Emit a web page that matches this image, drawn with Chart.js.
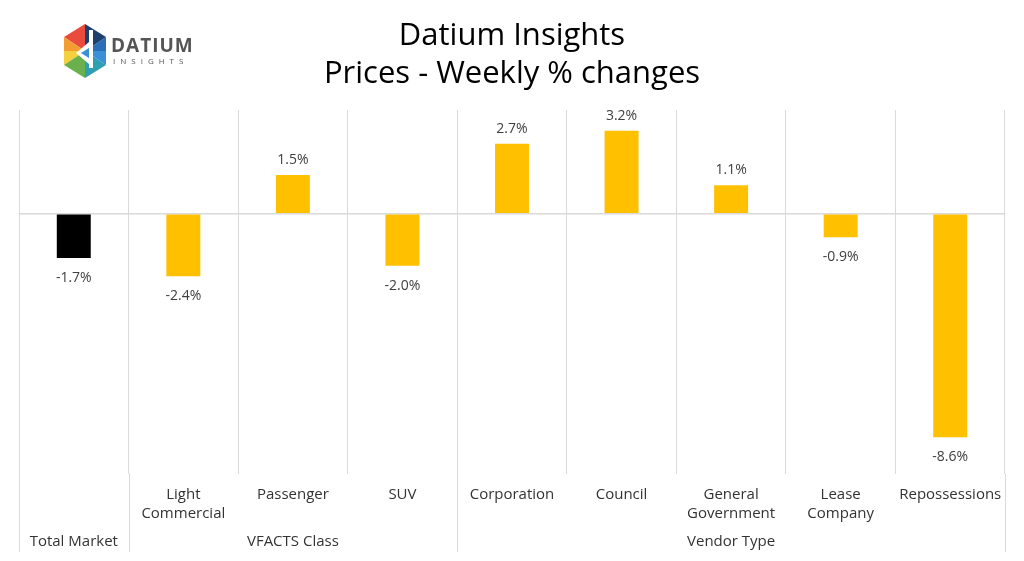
<!DOCTYPE html>
<html lang="en">
<head>
    <title>Datium Insights</title>
    <script src="https://cdn.jsdelivr.net/npm/chart.js"></script>
    <style>
        body { margin: 0; background: #fff; }
        .wrap { position: relative; width: 1024px; height: 561px; }
        .logo { position: absolute; left: 64px; top: 24px; display: flex; align-items: center; }
        .logo .name { margin-left: 5px; font-family: 'Open Sans', sans-serif; color: #555; }
        .logo .big { font-size: 19px; font-weight: 700; letter-spacing: 1px; line-height: 20px; }
        .logo .small { font-size: 8px; letter-spacing: 5px; line-height: 12px; margin-left: 2px; }
    </style>
</head>
<body>
<div class="wrap">
    <canvas id="changes"></canvas>
    <div class="logo">
        <svg width="42" height="54" viewBox="0 0 42 54">
            <polygon points="21,0 0,13 21,27" fill="#e94b3c"/>
            <polygon points="0,13 0,27 21,27" fill="#f39c32"/>
            <polygon points="0,27 0,41 21,27" fill="#f4d03f"/>
            <polygon points="0,41 21,54 21,27" fill="#6ab04c"/>
            <polygon points="21,54 42,41 21,27" fill="#2e9fb0"/>
            <polygon points="42,41 42,27 21,27" fill="#3a8fd6"/>
            <polygon points="42,27 42,13 21,27" fill="#2a6fb8"/>
            <polygon points="42,13 21,0 21,27" fill="#1c3f6e"/>
            <polygon points="25,6 29,6 29,44 25,44" fill="#fff"/>
            <polygon points="25,18 12,29 25,40" fill="#fff"/>
            <polygon points="25,24 17,29 25,34" fill="#3a8fd6"/>
        </svg>
        <div class="name">
            <div class="big">DATIUM</div>
            <div class="small">INSIGHTS</div>
        </div>
    </div>
</div>

<script>
    // categories along the axis (first one is shown in the group row only)
    const categories = ['', ['Light', 'Commercial'], 'Passenger', 'SUV', 'Corporation', 'Council', ['General', 'Government'], ['Lease', 'Company'], 'Repossessions'];
    const weeklyChange = [-1.7, -2.4, 1.5, -2.0, 2.7, 3.2, 1.1, -0.9, -8.6];

    // group row under the categories
    const groupLabels = ['Total Market', 'VFACTS Class', 'Vendor Type'];
    const groupSizes = [1, 3, 5];

    const font = "'Open Sans', sans-serif";

    const extras = {
        id: 'extras',
        afterDatasetsDraw(chart) {
            const ctx = chart.ctx;
            const meta = chart.getDatasetMeta(0);
            ctx.save();
            ctx.font = '14px ' + font;
            ctx.fillStyle = '#404040';
            ctx.textAlign = 'center';
            ctx.textBaseline = 'middle';
            meta.data.forEach((bar, i) => {
                const v = weeklyChange[i];
                const txt = v.toFixed(1) + '%';
                if (v >= 0) ctx.fillText(txt, bar.x, bar.y - 15);
                else ctx.fillText(txt, bar.x, bar.y + 20);
            });
            ctx.restore();
        },
        afterDraw(chart) {
            const ctx = chart.ctx;
            const x = chart.scales.x;
            const area = chart.chartArea;
            const step = x.getPixelForValue(1) - x.getPixelForValue(0);
            ctx.save();
            ctx.strokeStyle = '#d9d9d9';
            ctx.lineWidth = 1;
            ctx.font = '15px ' + font;
            ctx.fillStyle = '#333';
            ctx.textAlign = 'center';
            ctx.textBaseline = 'middle';
            let start = 0;
            const edges = [0];
            groupSizes.forEach((n, g) => {
                const left = x.getPixelForValue(start) - step / 2;
                const right = x.getPixelForValue(start + n - 1) + step / 2;
                ctx.fillText(groupLabels[g], (left + right) / 2, 542);
                start += n;
                edges.push(start);
            });
            edges.forEach(e => {
                const px = Math.round(x.getPixelForValue(e) - step / 2) + 0.5;
                ctx.beginPath();
                ctx.moveTo(px, area.bottom);
                ctx.lineTo(px, 552);
                ctx.stroke();
            });
            ctx.restore();
        }
    };

    const changesCtx = document.getElementById('changes').getContext('2d');
    new Chart(changesCtx, {
        type: 'bar',
        data: {
            labels: categories,
            datasets: [{
                data: weeklyChange,
                backgroundColor: c => c.dataIndex === 0 ? '#000000' : '#FFC000',
                borderWidth: 0,
                barPercentage: 0.31,
                categoryPercentage: 1
            }]
        },
        options: {
            responsive: true,
            maintainAspectRatio: false,
            animation: false,
            layout: { padding: { left: 19, right: 19, bottom: 26 } },
            plugins: {
                legend: { display: false },
                tooltip: { enabled: false },
                title: {
                    display: true,
                    text: ['Datium Insights', 'Prices - Weekly % changes'],
                    color: '#000',
                    font: { family: font, size: 31, weight: 'normal', lineHeight: 1.226 },
                    padding: { top: 17, bottom: 17 }
                }
            },
            scales: {
                x: {
                    grid: { offset: true, color: '#d9d9d9', drawTicks: false },
                    border: { display: false },
                    ticks: {
                        color: '#333',
                        padding: 12,
                        maxRotation: 0,
                        autoSkip: false,
                        font: { family: font, size: 15, lineHeight: 1.25 }
                    }
                },
                y: {
                    min: -10,
                    max: 4,
                    ticks: { display: false, stepSize: 2 },
                    border: { display: false },
                    grid: {
                        drawTicks: false,
                        lineWidth: 1.5,
                        color: c => c.tick.value === 0 ? '#d9d9d9' : 'rgba(0,0,0,0)'
                    }
                }
            }
        },
        plugins: [extras]
    });
</script>
</body>
</html>
